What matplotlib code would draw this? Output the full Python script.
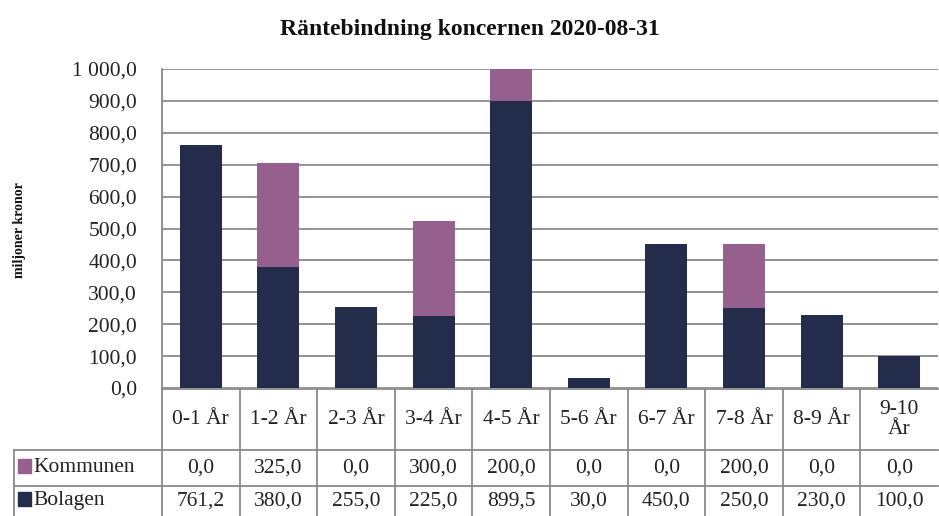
import numpy as np
import matplotlib.pyplot as plt
from matplotlib.patches import Rectangle

plt.rcParams['font.family'] = ['Liberation Serif', 'DejaVu Serif']

# Data
categories = ['0-1 År', '1-2 År', '2-3 År', '3-4 År', '4-5 År',
              '5-6 År', '6-7 År', '7-8 År', '8-9 År', '9-10\nÅr']
bolagen = [761.2, 380.0, 255.0, 225.0, 899.5, 30.0, 450.0, 250.0, 230.0, 100.0]
kommunen = [0.0, 325.0, 0.0, 300.0, 200.0, 0.0, 0.0, 200.0, 0.0, 0.0]
series_names = ['Kommunen', 'Bolagen']

c_bol = '#232d4b'
c_kom = '#955f8e'
grid_c = '#8a8a8a'
txt_c = '#222222'
fs = 15.5

W, H = 939, 516
fig = plt.figure(figsize=(W / 100, H / 100), dpi=100)
ax = fig.add_axes([162 / W, 1 - 388 / H, (938 - 162) / W, (388 - 69) / H])

x = np.arange(len(categories))
ax.bar(x, bolagen, width=0.54, color=c_bol, zorder=3)
ax.bar(x, kommunen, width=0.54, bottom=bolagen, color=c_kom, zorder=3)

ax.set_xlim(-0.5, len(categories) - 0.5)
ax.set_ylim(0, 1000)
ax.set_yticks(np.arange(0, 1001, 100))
ax.set_yticklabels([f'{v:,.1f}'.replace(',', ' ').replace('.', ',') for v in np.arange(0, 1001, 100)],
                   fontsize=fs, color=txt_c)
ax.tick_params(axis='y', length=0, pad=18)
ax.tick_params(axis='x', length=0, labelbottom=False)
ax.yaxis.grid(True, color=grid_c, linewidth=1.3, zorder=0)
for s in ['top', 'right', 'bottom']:
    ax.spines[s].set_visible(False)
ax.spines['left'].set_color(grid_c)
ax.spines['left'].set_linewidth(1.3)

fig.text(470 / W, 1 - 30 / H, 'Räntebindning koncernen 2020-08-31', fontsize=17,
         fontweight='bold', ha='center', va='center', color='#111111')
fig.text(20 / W, 1 - 230 / H, 'miljoner kronor', rotation=90, fontsize=10,
         fontweight='bold', ha='center', va='center', color='#111111')

# Data table drawn below the axes
ah = 388 - 69
def yf(py):
    return (388 - py) / ah

tr = ax.get_xaxis_transform()
y_rows = [yf(389), yf(450), yf(486), yf(520)]
left = -0.5 - (162 - 14) / ((938 - 162) / 10)
lw = 1.3
# horizontal lines
ax.plot([-0.5, 9.5], [y_rows[0]] * 2, color=grid_c, lw=lw, transform=tr, clip_on=False)
for yy in y_rows[1:3]:
    ax.plot([left, 9.5], [yy] * 2, color=grid_c, lw=lw, transform=tr, clip_on=False)
# vertical lines
for i in range(len(categories)):
    ax.plot([i - 0.5] * 2, [y_rows[0], y_rows[3]], color=grid_c, lw=lw, transform=tr, clip_on=False)
ax.plot([left] * 2, [y_rows[1], y_rows[3]], color=grid_c, lw=lw, transform=tr, clip_on=False)

fmt = lambda v: f'{v:.1f}'.replace('.', ',')
for i, c in enumerate(categories):
    ax.text(i, (y_rows[0] + y_rows[1]) / 2, c, transform=tr, ha='center', va='center',
            fontsize=fs, color=txt_c, linespacing=1.05)
    ax.text(i, (y_rows[1] + y_rows[2]) / 2, fmt(kommunen[i]), transform=tr, ha='center',
            va='center', fontsize=fs, color=txt_c)
    ax.text(i, (y_rows[2] + yf(516)) / 2, fmt(bolagen[i]), transform=tr, ha='center',
            va='center', fontsize=fs, color=txt_c)

for (name, col, r0, r1) in [(series_names[0], c_kom, y_rows[1], y_rows[2]),
                            (series_names[1], c_bol, y_rows[2], yf(516))]:
    ym = (r0 + r1) / 2
    ax.add_patch(Rectangle((left + 0.05, ym - 0.016), 0.17, 0.044, transform=tr,
                           color=col, clip_on=False))
    ax.text(left + 0.25, ym, name, transform=tr, ha='left', va='center',
            fontsize=fs, color=txt_c)

fig.savefig('out.png', dpi=100)
